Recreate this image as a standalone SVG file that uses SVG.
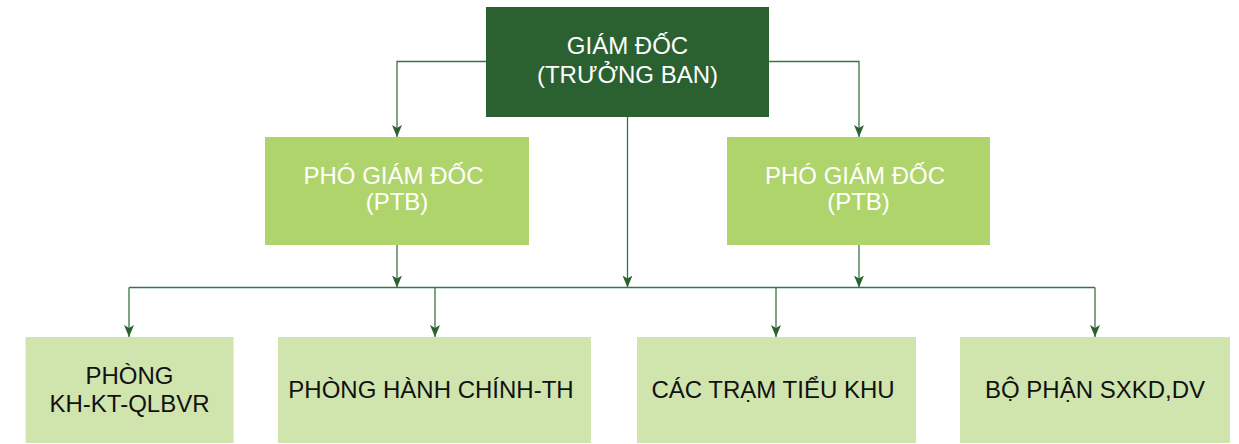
<svg xmlns="http://www.w3.org/2000/svg" width="1239" height="444" viewBox="0 0 1239 444">
  <style>
    .lbl { font-family: "Liberation Sans", Arial, sans-serif; font-size: 24px; text-anchor: middle; }
    .light { fill: #ffffff; }
    .dark { fill: #111111; }
    .head { fill: #2b6131; }
    .deputy { fill: #b0d46c; }
    .unit { fill: #d0e5ae; }
    .wire { fill: none; stroke: #3a7444; stroke-width: 1.3; marker-end: url(#arrow); }
    .bus { fill: none; stroke: #3a7444; stroke-width: 1.3; }
  </style>
  <defs>
    <marker id="arrow" markerUnits="userSpaceOnUse" markerWidth="12" markerHeight="10" viewBox="0 0 12 10" refX="12" refY="5" orient="auto">
      <path d="M0,0 L12,5 L0,10 L3,5 Z" fill="#2b6131"/>
    </marker>
  </defs>

  <g id="connectors">
    <path class="wire" d="M486,61.5 H397 V137"/>
    <path class="wire" d="M769,61.5 H859 V137"/>
    <path class="wire" d="M627.5,117 V287.5"/>
    <path class="wire" d="M397,245 V287.5"/>
    <path class="wire" d="M859,245 V287.5"/>
    <path class="bus" d="M129,287.5 H1095"/>
    <path class="wire" d="M129,287.5 V337"/>
    <path class="wire" d="M435,287.5 V337"/>
    <path class="wire" d="M776,287.5 V337"/>
    <path class="wire" d="M1095,287.5 V337"/>
  </g>

  <g id="giam-doc">
    <rect class="head" x="486" y="7" width="283" height="110"/>
    <text class="lbl light" x="627.5" y="54">GIÁM ĐỐC</text>
    <text class="lbl light" x="627.5" y="82.5">(TRƯỞNG BAN)</text>
  </g>

  <g id="pho-giam-doc-1">
    <rect class="deputy" x="265" y="137" width="264" height="108"/>
    <text class="lbl light" x="393.5" y="183.5">PHÓ GIÁM ĐỐC</text>
    <text class="lbl light" x="397" y="210">(PTB)</text>
  </g>

  <g id="pho-giam-doc-2">
    <rect class="deputy" x="727" y="137" width="263" height="108"/>
    <text class="lbl light" x="855" y="183.5">PHÓ GIÁM ĐỐC</text>
    <text class="lbl light" x="858.5" y="210">(PTB)</text>
  </g>

  <g id="phong-kh-kt">
    <rect class="unit" x="25.5" y="337" width="208" height="106"/>
    <text class="lbl dark" x="129.5" y="384">PHÒNG</text>
    <text class="lbl dark" x="129.5" y="411.5">KH-KT-QLBVR</text>
  </g>

  <g id="phong-hanh-chinh">
    <rect class="unit" x="278" y="337" width="313" height="106"/>
    <text class="lbl dark" x="431" y="398">PHÒNG HÀNH CHÍNH-TH</text>
  </g>

  <g id="tram-tieu-khu">
    <rect class="unit" x="637" y="337" width="279" height="106"/>
    <text class="lbl dark" x="773" y="398">CÁC TRẠM TIỂU KHU</text>
  </g>

  <g id="bo-phan-sxkd">
    <rect class="unit" x="960" y="337" width="270" height="106"/>
    <text class="lbl dark" x="1095" y="398">BỘ PHẬN SXKD,DV</text>
  </g>
</svg>
